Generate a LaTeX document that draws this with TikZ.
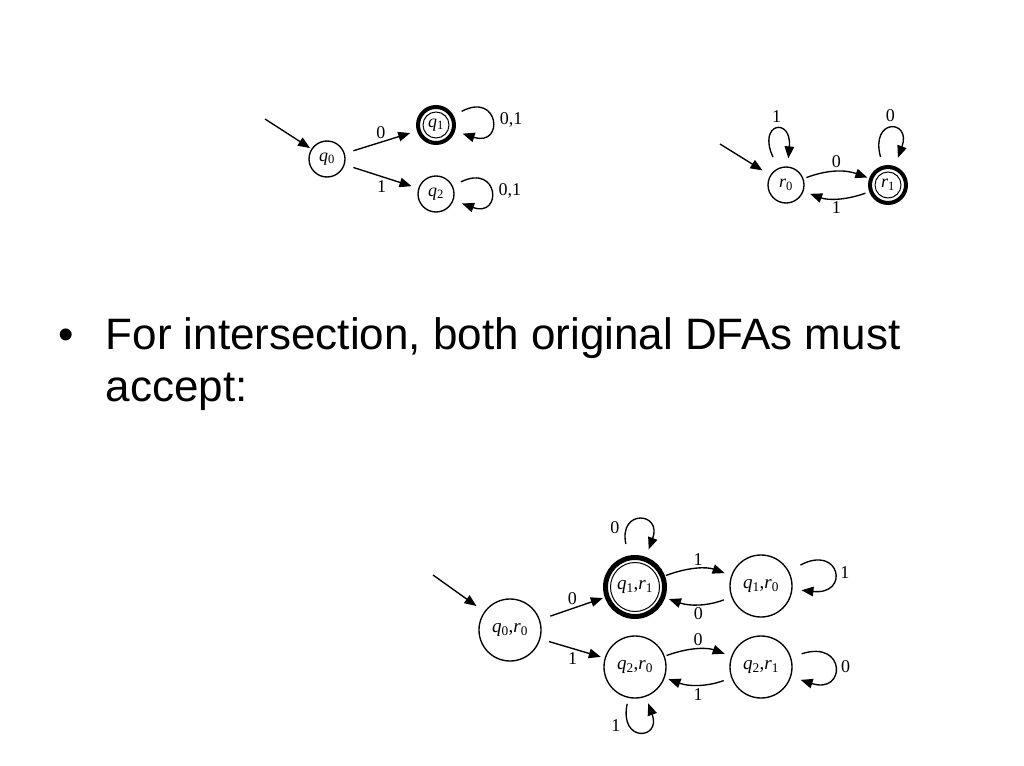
\documentclass[tikz,border=0pt]{standalone}
\usepackage{fontspec}
\setmainfont{Liberation Serif}
\newfontfamily\slidefont{Liberation Sans}
\usetikzlibrary{arrows.meta}

% state name with subscript
\newcommand\sname[2]{\textit{#1}\textsubscript{#2}}

\begin{document}
\begin{tikzpicture}[x=1pt,y=-1pt,line width=1.35pt,
  >={Triangle[length=12pt,width=9.5pt]},
  state/.style={circle,draw,minimum size=36pt,inner sep=0pt,
    font=\fontsize{18}{18}\selectfont},
  bigstate/.style={state,minimum size=62pt,font=\fontsize{19}{19}\selectfont},
  accept/.style={path picture={\draw[line width=1pt]
    (path picture bounding box.center) circle[radius=#1];}},
  lab/.style={font=\fontsize{18}{18}\selectfont,inner sep=3pt}]

\fill[white] (0,0) rectangle (1024,765);
\useasboundingbox (0,0) rectangle (1024,765);

% first DFA
\node[state] (q0) at (327,159) {\sname{q}{0}};
\node[state,line width=4pt,accept=13pt] (q1) at (436,125) {\sname{q}{1}};
\node[state] (q2) at (436,194) {\sname{q}{2}};
\coordinate (q0in) at (265,119);

\draw[->,shorten >=1.5pt] (q0in) -- (q0);
\draw[->,shorten <=9pt,shorten >=7pt] (q0) -- node[lab,above] {0} (q1);
\draw[->,shorten <=9pt,shorten >=7pt] (q0) -- node[lab,below] {1} (q2);
\draw[->,shorten <=9pt,shorten >=8pt] (q1) to[out=28,in=-18,min distance=52pt]
  node[lab,right=6pt] {0,1} (q1);
\draw[->,shorten <=9pt,shorten >=9pt] (q2) to[out=26,in=-20,min distance=52pt]
  node[lab,right=6pt] {0,1} (q2);

% second DFA
\node[state] (r0) at (786,185) {\sname{r}{0}};
\node[state,line width=4pt,accept=13pt] (r1) at (888,185) {\sname{r}{1}};
\coordinate (r0in) at (720,144);

\draw[->,shorten >=9pt] (r0in) -- (r0);
\draw[->,shorten <=3pt,shorten >=2pt] (r0) to[bend left=20] node[lab,above] {0} (r1);
\draw[->,shorten <=4pt,shorten >=7pt] (r1) to[bend left=20] node[lab,below] {1} (r0);
\draw[->,shorten <=12pt,shorten >=8pt] (r0) to[out=115,in=85,min distance=50pt]
  node[lab,above=5pt] {1} (r0);
\draw[->,shorten <=9pt,shorten >=9pt] (r1) to[out=105,in=70,min distance=50pt]
  node[lab,above=5pt] {0} (r1);

% bullet text
\node[anchor=base,inner sep=0pt,font=\slidefont\fontsize{44}{53}\selectfont]
  (dot) at (66,349) {•};
\node[anchor=base west,inner sep=0pt,font=\slidefont\fontsize{44}{53}\selectfont]
  (line1) at (105,349) {For intersection, both original DFAs must};
\node[anchor=base west,inner sep=0pt,font=\slidefont\fontsize{44}{53}\selectfont]
  (line2) at (105,401) {accept:};

% product DFA
\node[bigstate] (q0r0) at (510,630) {\sname{q}{0},\sname{r}{0}};
\node[bigstate,minimum size=59pt,line width=5pt,accept=24.5pt] (q1r1) at (635,587)
  {\sname{q}{1},\sname{r}{1}};
\node[bigstate] (q1r0) at (761,586) {\sname{q}{1},\sname{r}{0}};
\node[bigstate] (q2r0) at (635,667) {\sname{q}{2},\sname{r}{0}};
\node[bigstate] (q2r1) at (761,667) {\sname{q}{2},\sname{r}{1}};
\coordinate (q0r0in) at (433,575);

\draw[->,shorten >=9.5pt] (q0r0in) -- (q0r0);
\draw[->,shorten <=11pt,shorten >=2pt] (q0r0) -- node[lab,above] {0} (q1r1);
\draw[->,shorten <=9pt,shorten >=4pt] (q0r0) -- node[lab,below] {1} (q2r0);

\draw[->,shorten <=1pt,shorten >=7pt] (q1r1) to[bend left=20] node[lab,above] {1} (q1r0);
\draw[->,shorten <=8pt,shorten >=4pt] (q1r0) to[bend left=20] node[lab,below] {0} (q1r1);
\draw[->,shorten <=2pt,shorten >=7pt] (q2r0) to[bend left=20] node[lab,above] {0} (q2r1);
\draw[->,shorten <=8pt,shorten >=4pt] (q2r1) to[bend left=20] node[lab,below] {1} (q2r0);

\draw[->,shorten <=12pt,shorten >=8pt] (q1r1) to[out=102,in=70,min distance=48pt]
  node[lab,left=7pt,pos=0.28] {0} (q1r1);
\draw[->,shorten <=6pt,shorten >=7pt] (q2r0) to[out=-102,in=-70,min distance=46pt]
  node[lab,left=7pt,pos=0.3] {1} (q2r0);
\draw[->,shorten <=13pt,shorten >=9pt] (q1r0) to[out=28,in=-6,min distance=58pt]
  node[lab,right=5pt] {1} (q1r0);
\draw[->,shorten <=11pt,shorten >=10pt] (q2r1) to[out=18,in=-18,min distance=58pt]
  node[lab,right=5pt] {0} (q2r1);

\end{tikzpicture}
\end{document}
